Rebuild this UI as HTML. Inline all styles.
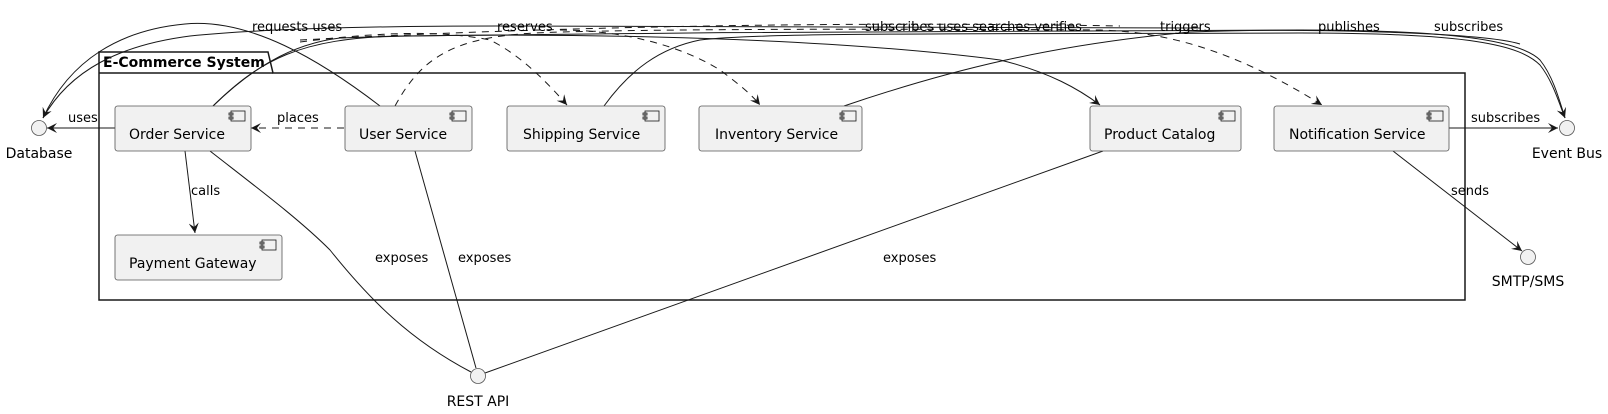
<!DOCTYPE html>
<html><head><meta charset="utf-8"><style>
html,body{margin:0;padding:0;background:#fff;}
svg{display:block;font-family:"DejaVu Sans","Liberation Sans",sans-serif;}
.box{fill:#F1F1F1;stroke:#555;stroke-width:0.8;}
.ln{fill:none;stroke:#181818;stroke-width:1;}
.ds{fill:none;stroke:#181818;stroke-width:1;stroke-dasharray:7,6;}
.t{font-size:14px;fill:#000;}
.l{font-size:13px;fill:#000;}
.ic{fill:none;stroke:#181818;stroke-width:0.8;}
.if{fill:#F1F1F1;stroke:#555;stroke-width:0.8;}
</style></head><body>
<svg width="1608" height="414" viewBox="0 0 1608 414" xmlns="http://www.w3.org/2000/svg">
<defs>
<marker id="a" markerWidth="12" markerHeight="10" refX="10" refY="5" orient="auto" markerUnits="userSpaceOnUse">
<path d="M0,0 L10,5 L0,10 L4,5 Z" fill="#181818"/>
</marker>
</defs>

<path d="M99,300 L99,52 L268,52 L273,73 L1465,73 L1465,300 Z" fill="none" stroke="#181818" stroke-width="1.5"/>
<line x1="99" y1="73" x2="273" y2="73" stroke="#181818" stroke-width="1.5"/>
<text x="103" y="67" font-size="14" font-weight="bold">E-Commerce System</text>

<path class="ln" d="M380,106 C320,60 250,18 185,24 C120,30 70,60 43,118" marker-end="url(#a)"/>
<path class="ln" d="M1200,28 L500,26 C350,26 250,30 190,36 C120,45 70,70 43,118"/>
<path class="ln" d="M213,106 C250,70 290,44 340,38 C500,32 800,34 1000,60 C1050,72 1080,90 1100,105" marker-end="url(#a)"/>
<path class="ln" d="M213,106 C260,60 300,38 400,36 C700,32 1100,30 1300,30 C1450,30 1520,40 1540,60 C1552,75 1558,95 1565,118"/>
<path class="ln" d="M604,106 C630,70 660,48 700,40 C760,33 900,34 1300,33 C1470,33 1520,45 1540,65 C1552,80 1558,100 1565,118" marker-end="url(#a)"/>
<path class="ln" d="M844,106 C950,70 1050,45 1190,32 C1300,28 1480,32 1520,44"/>
<path class="ds" d="M395,106 C420,60 450,40 520,34 C560,30 800,28 1100,30 C1180,32 1250,60 1322,105" marker-end="url(#a)"/>
<path class="ds" d="M300,42 C380,32 440,30 490,40 C520,55 545,80 567,105" marker-end="url(#a)"/>
<path class="ds" d="M560,30 C620,30 680,45 720,70 C740,85 752,95 760,105" marker-end="url(#a)"/>
<path class="ds" d="M300,40 C600,24 900,22 1120,26"/>

<line class="ln" x1="115" y1="128" x2="47" y2="128" marker-end="url(#a)"/>
<line class="ds" x1="344" y1="128" x2="251" y2="128" marker-end="url(#a)"/>
<line class="ln" x1="185" y1="151" x2="195" y2="233" marker-end="url(#a)"/>
<path class="ln" d="M210,151 C260,190 300,220 330,250 C370,300 410,340 471,372"/>
<line class="ln" x1="415" y1="151" x2="476" y2="368"/>
<line class="ln" x1="1103" y1="151" x2="485" y2="373"/>
<line class="ln" x1="1449" y1="128" x2="1558" y2="128" marker-end="url(#a)"/>
<line class="ln" x1="1393" y1="151" x2="1522" y2="251" marker-end="url(#a)"/>

<g>
<rect class="box" x="115" y="106" width="136" height="45" rx="2.5"/>
<rect class="box" x="345" y="106" width="127" height="45" rx="2.5"/>
<rect class="box" x="507" y="106" width="158" height="45" rx="2.5"/>
<rect class="box" x="699" y="106" width="163" height="45" rx="2.5"/>
<rect class="box" x="1090" y="106" width="151" height="45" rx="2.5"/>
<rect class="box" x="1274" y="106" width="175" height="45" rx="2.5"/>
<rect class="box" x="115" y="235" width="167" height="45" rx="2.5"/>
</g>
<g class="ic">
<rect x="231" y="111" width="14" height="10"/><rect x="229" y="113" width="4" height="2"/><rect x="229" y="117" width="4" height="2"/>
<rect x="452" y="111" width="14" height="10"/><rect x="450" y="113" width="4" height="2"/><rect x="450" y="117" width="4" height="2"/>
<rect x="645" y="111" width="14" height="10"/><rect x="643" y="113" width="4" height="2"/><rect x="643" y="117" width="4" height="2"/>
<rect x="842" y="111" width="14" height="10"/><rect x="840" y="113" width="4" height="2"/><rect x="840" y="117" width="4" height="2"/>
<rect x="1221" y="111" width="14" height="10"/><rect x="1219" y="113" width="4" height="2"/><rect x="1219" y="117" width="4" height="2"/>
<rect x="1429" y="111" width="14" height="10"/><rect x="1427" y="113" width="4" height="2"/><rect x="1427" y="117" width="4" height="2"/>
<rect x="262" y="240" width="14" height="10"/><rect x="260" y="242" width="4" height="2"/><rect x="260" y="246" width="4" height="2"/>
</g>
<text class="t" x="129" y="139">Order Service</text>
<text class="t" x="359" y="139">User Service</text>
<text class="t" x="523" y="139">Shipping Service</text>
<text class="t" x="715" y="139">Inventory Service</text>
<text class="t" x="1104" y="139">Product Catalog</text>
<text class="t" x="1289" y="139">Notification Service</text>
<text class="t" x="129" y="268">Payment Gateway</text>

<circle class="if" cx="39" cy="128" r="7.5"/>
<circle class="if" cx="1567" cy="128" r="7.5"/>
<circle class="if" cx="1528" cy="257" r="7.5"/>
<circle class="if" cx="478" cy="376" r="7.5"/>
<text class="t" x="39" y="158" text-anchor="middle">Database</text>
<text class="t" x="1567" y="158" text-anchor="middle">Event Bus</text>
<text class="t" x="1528" y="286" text-anchor="middle">SMTP/SMS</text>
<text class="t" x="478" y="406" text-anchor="middle">REST API</text>

<text class="l" x="252" y="31">requests  uses</text>
<text class="l" x="497" y="31">reserves</text>
<text class="l" x="865" y="31">subscribes uses searches verifies</text>
<text class="l" x="1160" y="31">triggers</text>
<text class="l" x="1318" y="31">publishes</text>
<text class="l" x="1434" y="31">subscribes</text>
<text class="l" x="68" y="122">uses</text>
<text class="l" x="277" y="122">places</text>
<text class="l" x="191" y="195">calls</text>
<text class="l" x="375" y="262">exposes</text>
<text class="l" x="458" y="262">exposes</text>
<text class="l" x="883" y="262">exposes</text>
<text class="l" x="1471" y="122">subscribes</text>
<text class="l" x="1451" y="195">sends</text>
</svg>
</body></html>
